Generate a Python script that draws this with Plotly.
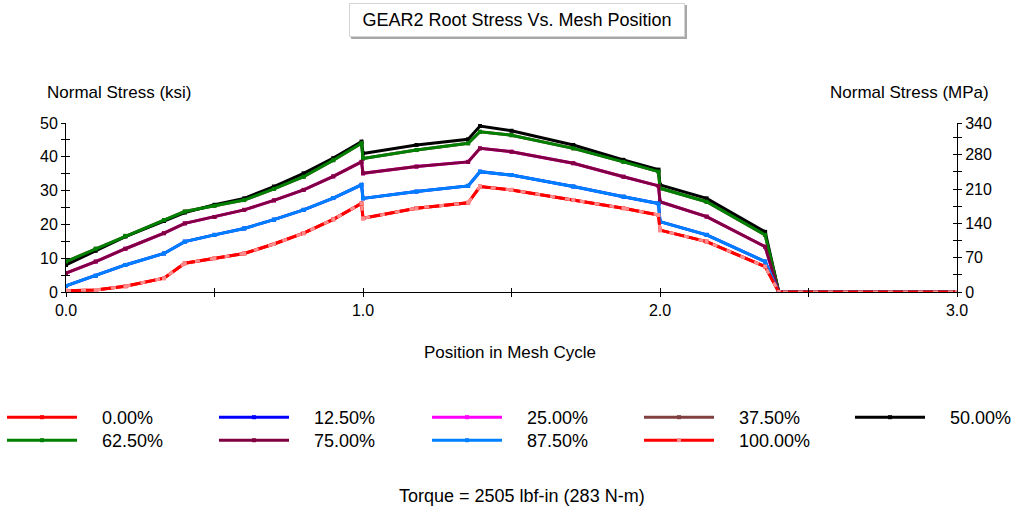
import plotly.graph_objects as go

# Mesh position (fraction of one mesh cycle)
mesh_position = [0.0, 0.1, 0.2, 0.33, 0.4, 0.5, 0.6, 0.7, 0.8, 0.9, 0.995, 1.0, 1.18,
                 1.354, 1.394, 1.5, 1.708, 1.877, 1.995, 2.0, 2.157, 2.354, 2.4, 3.0]

# Root stress in ksi at each face-width position
stress_500 = [8.0, 12.2, 16.4, 21.0, 23.5, 25.8, 27.7, 31.2, 35.1, 39.6, 44.5, 41.0, 43.5,
              45.2, 49.1, 47.7, 43.5, 39.1, 36.2, 31.7, 27.7, 17.8, 0.0, 0.0]
stress_625 = [9.0, 12.8, 16.6, 21.3, 23.8, 25.5, 27.2, 30.5, 34.1, 39.0, 44.0, 39.5, 42.0,
              44.0, 47.4, 46.4, 42.5, 38.5, 35.6, 30.7, 26.7, 16.9, 0.0, 0.0]
stress_750 = [5.6, 9.0, 12.8, 17.4, 20.3, 22.2, 24.3, 27.1, 30.2, 34.2, 38.5, 35.1, 37.1,
              38.5, 42.5, 41.5, 38.1, 34.1, 31.4, 26.7, 22.3, 13.4, 0.0, 0.0]
stress_875 = [1.8, 4.8, 8.0, 11.4, 14.9, 16.9, 18.8, 21.4, 24.3, 27.8, 31.7, 27.7, 29.7,
              31.4, 35.6, 34.6, 31.2, 28.2, 26.2, 20.8, 16.9, 9.0, 0.0, 0.0]
stress_1000 = [0.4, 0.6, 1.7, 4.1, 8.5, 10.0, 11.4, 14.2, 17.4, 21.5, 26.2, 21.8, 24.8,
               26.4, 31.2, 30.2, 27.2, 24.8, 22.8, 18.3, 14.9, 7.5, 0.0, 0.0]
# face-width positions symmetric about the centre carry the same stress
stress_000 = stress_1000
stress_125 = stress_875
stress_250 = stress_750
stress_375 = stress_625

series_labels = ["0.00%", "12.50%", "25.00%", "37.50%", "50.00%",
                 "62.50%", "75.00%", "87.50%", "100.00%"]
series_values = [stress_000, stress_125, stress_250, stress_375, stress_500,
                 stress_625, stress_750, stress_875, stress_1000]
series_colors = ["#ff0000", "#0000ff", "#ff00ff", "#804040", "#000000",
                 "#008000", "#800040", "#0080ff", "#ff0000"]
marker_colors = series_colors[:-1] + ["#ff8c8c"]

x_ticks = [0.0, 0.5, 1.0, 1.5, 2.0, 2.5, 3.0]
x_ticktext = ["0.0", "", "1.0", "", "2.0", "", "3.0"]
ksi_ticks = [0, 5, 10, 15, 20, 25, 30, 35, 40, 45, 50]
ksi_ticktext = ["0", "", "10", "", "20", "", "30", "", "40", "", "50"]
KSI_TO_MPA = 6.894757
mpa_top = 50 * KSI_TO_MPA
mpa_ticks = [0, 35, 70, 105, 140, 175, 210, 245, 280, 315, mpa_top]
mpa_ticktext = ["0", "", "70", "", "140", "", "210", "", "280", "", "340"]

W, H = 1019, 512
ML, MR, MT, MB = 66, 62, 123, 220
PW, PH = W - ML - MR, H - MT - MB


def px(x):
    return (x - ML) / PW


def py(y):
    return (H - MB - y) / PH


FONT = "Liberation Sans, Arial, sans-serif"
NBSP = "\u00a0"

fig = go.Figure()

for i, (name, vals) in enumerate(zip(series_labels, series_values)):
    fig.add_trace(go.Scatter(
        x=mesh_position, y=vals, name=NBSP * 4 + name, mode="lines+markers",
        line=dict(color=series_colors[i], width=3),
        marker=dict(color=marker_colors[i], size=4, symbol="square"),
        legend="legend" if i == 0 else f"legend{i + 1}",
        hovertemplate=name + ": %{y:.1f} ksi<extra></extra>",
    ))

# pink dashes over the 100% line
fig.add_trace(go.Scatter(
    x=mesh_position, y=stress_1000, mode="lines", showlegend=False,
    line=dict(color="#ff8c8c", width=3, dash="5px,10px"), hoverinfo="skip",
))

# empty traces so the secondary / tick-mirroring axes are drawn
for xa, ya in [("x2", "y"), ("x", "y2"), ("x", "y3"), ("x", "y4")]:
    fig.add_trace(go.Scatter(x=[None], y=[None], xaxis=xa, yaxis=ya,
                             showlegend=False, hoverinfo="skip"))

tickfont = dict(family=FONT, size=16, color="#000")
common_axis = dict(showgrid=False, zeroline=False, ticklen=4, tickwidth=1,
                   tickcolor="#000", linecolor="#000", linewidth=1, fixedrange=True)

fig.update_layout(
    width=W, height=H,
    margin=dict(l=ML, r=MR, t=MT, b=MB, autoexpand=False),
    paper_bgcolor="white", plot_bgcolor="white",
    font=dict(family=FONT, size=18, color="#000"),
    xaxis=dict(range=[0, 3], tickvals=x_ticks, ticktext=x_ticktext, ticks="outside",
               showline=True, tickfont=tickfont, **common_axis),
    xaxis2=dict(range=[0, 3], tickvals=x_ticks, ticks="inside", overlaying="x",
                anchor="y", side="bottom", showticklabels=False, showline=False,
                **common_axis),
    yaxis=dict(range=[0, 50], tickvals=ksi_ticks, ticktext=ksi_ticktext,
               ticks="outside", showline=True, tickfont=tickfont, **common_axis),
    yaxis3=dict(range=[0, 50], tickvals=ksi_ticks, ticks="inside", overlaying="y",
                side="left", anchor="x", showticklabels=False, showline=False,
                **common_axis),
    yaxis2=dict(range=[0, mpa_top], tickvals=mpa_ticks, ticktext=mpa_ticktext,
                ticks="outside", overlaying="y", side="right", anchor="x",
                showline=True, tickfont=tickfont, **common_axis),
    yaxis4=dict(range=[0, mpa_top], tickvals=mpa_ticks, ticks="inside",
                overlaying="y", side="right", anchor="x", showticklabels=False,
                showline=False, **common_axis),
    showlegend=True,
)

# one legend per entry, laid out in a 5-column grid
col_left = [2, 214, 427, 639, 850]
row_top = [399, 422]
for i in range(len(series_labels)):
    lname = "legend" if i == 0 else f"legend{i + 1}"
    fig.update_layout({lname: dict(
        orientation="v", x=px(col_left[i % 5]), y=py(row_top[i // 5]),
        xanchor="left", yanchor="top",
        font=dict(family=FONT, size=18, color="#000"), itemwidth=70,
        bgcolor="rgba(0,0,0,0)", borderwidth=0,
    )})

# title box with a drop shadow
fig.add_shape(type="rect", xref="paper", yref="paper",
              x0=px(351), x1=px(687), y0=py(39), y1=py(5),
              fillcolor="#a8a8a8", line=dict(width=0), layer="above")
fig.add_annotation(text="GEAR2 Root Stress Vs. Mesh Position", xref="paper", yref="paper",
                   x=px(517), y=py(20), xanchor="center", yanchor="middle",
                   showarrow=False, font=dict(size=18),
                   width=322, height=20, borderpad=6, borderwidth=1,
                   bordercolor="#d4d4d4", bgcolor="white")

fig.add_annotation(text="Normal Stress (ksi)", xref="paper", yref="paper",
                   x=px(45), y=py(92), xanchor="left", yanchor="middle",
                   showarrow=False, font=dict(size=17))
fig.add_annotation(text="Normal Stress (MPa)", xref="paper", yref="paper",
                   x=px(991), y=py(92), xanchor="right", yanchor="middle",
                   showarrow=False, font=dict(size=17))
fig.add_annotation(text="Position in Mesh Cycle", xref="paper", yref="paper",
                   x=px(510), y=py(352), xanchor="center", yanchor="middle",
                   showarrow=False, font=dict(size=17))
fig.add_annotation(text="Torque = 2505 lbf-in (283 N-m)", xref="paper", yref="paper",
                   x=px(522), y=py(496), xanchor="center", yanchor="middle",
                   showarrow=False, font=dict(size=18))

fig.write_html("out.html", config={"displayModeBar": False})
